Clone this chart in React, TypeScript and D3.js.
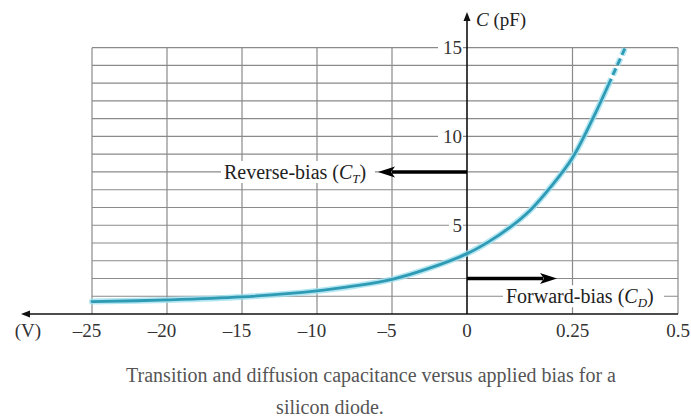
import React from "react";
import * as d3 from "d3";

// Data
const biasV = [-25, -20, -15, -10, -7.5, -5, -2.5, 0, 0.05, 0.1, 0.15, 0.2, 0.25, 0.3, 0.335];
const capPF = [0.7, 0.79, 0.96, 1.3, 1.58, 1.95, 2.58, 3.4, 4.05, 4.85, 5.85, 7.2, 8.8, 11.1, 12.9];
const dashedV = [0.335, 0.355, 0.375];
const dashedC = [12.9, 13.95, 15.0];
const xTickValues = [-25, -20, -15, -10, -5, 0, 0.25, 0.5];
const xTickLabels = ["\u201325", "\u201320", "\u201315", "\u201310", "\u20135", "0", "0.25", "0.5"];
const yTickValues = [5, 10, 15];
const yGridValues = d3.range(1, 16);
const xGridValues = [-25, -20, -15, -10, -5, 0.25, 0.5];

const W = 691;
const H = 420;
const FONT = "'Liberation Serif', 'DejaVu Serif', serif";

export default function App() {
  const x = d3.scaleLinear().domain([-25, 0, 0.5]).range([92, 467, 678]);
  const y = d3.scaleLinear().domain([0, 15]).range([314, 47.7]);

  const solidPts: [number, number][] = biasV.map((v, i) => [x(v), y(capPF[i])]);
  const dashPts: [number, number][] = dashedV.map((v, i) => [x(v), y(dashedC[i])]);
  const line = d3.line<[number, number]>().curve(d3.curveCatmullRom.alpha(0.5));
  const solidPath = line(solidPts) || "";
  const dashPath = line(dashPts) || "";

  const x0 = x(0);
  const gridColor = "#8a8a8a";
  const curveDark = "#2f9ab4";
  const curveGlow = "#9fe0ef";

  const revY = y(8);
  const fwdY = y(2);
  const fwdLabelY = y(1);

  return (
    <svg width={W} height={H} style={{ position: "absolute", left: 0, top: 0, background: "#fff" }}>
      {/* grid */}
      {yGridValues.map((c) => (
        <line key={"h" + c} x1={x(-25)} x2={x(0.5)} y1={y(c)} y2={y(c)} stroke={gridColor} strokeWidth={1.2} />
      ))}
      {xGridValues.map((v) => (
        <line key={"v" + v} x1={x(v)} x2={x(v)} y1={y(0)} y2={y(15)} stroke={gridColor} strokeWidth={1.2} />
      ))}

      {/* x axis */}
      <line x1={27} x2={x(0.5)} y1={y(0)} y2={y(0)} stroke="#111" strokeWidth={1.4} />
      <path d={`M21,${y(0)} L30,${y(0) - 3.5} L30,${y(0) + 3.5} Z`} fill="#111" />
      {/* y axis */}
      <line x1={x0} x2={x0} y1={y(0)} y2={19} stroke="#111" strokeWidth={1.6} />
      <path d={`M${x0},12 L${x0 - 3.5},21 L${x0 + 3.5},21 Z`} fill="#111" />

      {/* y tick labels */}
      {yTickValues.map((c) => (
        <g key={"yl" + c}>
          <rect x={c >= 10 ? 438 : 449} y={y(c) - 8} width={c >= 10 ? 25 : 14} height={16} fill="#fff" />
          <text x={462} y={y(c)} dy="0.35em" textAnchor="end" fontFamily={FONT} fontSize={19} fill="#333">
            {c}
          </text>
        </g>
      ))}

      {/* y axis title */}
      <text x={476} y={19} dy="0.35em" fontFamily={FONT} fontSize={19} fill="#222">
        <tspan fontStyle="italic">C</tspan>
        <tspan> (pF)</tspan>
      </text>

      {/* x tick labels */}
      {xTickValues.map((v, i) => (
        <text
          key={"xl" + v}
          x={x(v) + (v < 0 ? -5 : 0)}
          y={330}
          dy="0.35em"
          textAnchor="middle"
          fontFamily={FONT}
          fontSize={19}
          fill="#333"
        >
          {xTickLabels[i]}
        </text>
      ))}
      <text x={28} y={330} dy="0.35em" textAnchor="middle" fontFamily={FONT} fontSize={19} fill="#333">
        (V)
      </text>

      {/* curve */}
      <path d={solidPath} fill="none" stroke={curveGlow} strokeWidth={6} strokeLinecap="round" opacity={0.8} />
      <path d={solidPath} fill="none" stroke={curveDark} strokeWidth={2.8} strokeLinecap="round" />
      <path d={dashPath} fill="none" stroke={curveGlow} strokeWidth={6} strokeDasharray="7,4" opacity={0.8} />
      <path d={dashPath} fill="none" stroke={curveDark} strokeWidth={2.8} strokeDasharray="7,4" />

      {/* reverse-bias annotation */}
      <rect x={221} y={revY - 11} width={154} height={22} fill="#fff" />
      <text x={224} y={revY} dy="0.35em" fontFamily={FONT} fontSize={20} fill="#222">
        Reverse-bias (<tspan fontStyle="italic">C</tspan>
        <tspan fontStyle="italic" fontSize={13} dy={4}>T</tspan>
        <tspan dy={-4}>)</tspan>
      </text>
      <line x1={x0} x2={392} y1={revY} y2={revY} stroke="#000" strokeWidth={3.5} />
      <path d={`M378,${revY} L395,${revY - 5.5} L391,${revY} L395,${revY + 5.5} Z`} fill="#000" />

      {/* forward-bias annotation */}
      <line x1={x0} x2={543} y1={fwdY} y2={fwdY} stroke="#000" strokeWidth={3.5} />
      <path d={`M557,${fwdY} L540,${fwdY - 5.5} L544,${fwdY} L540,${fwdY + 5.5} Z`} fill="#000" />
      <rect x={503} y={fwdLabelY - 11} width={161} height={22} fill="#fff" />
      <text x={506} y={fwdLabelY} dy="0.35em" fontFamily={FONT} fontSize={20} fill="#222">
        Forward-bias (<tspan fontStyle="italic">C</tspan>
        <tspan fontStyle="italic" fontSize={13} dy={4}>D</tspan>
        <tspan dy={-4}>)</tspan>
      </text>

      {/* caption */}
      <text x={371} y={375} dy="0.35em" textAnchor="middle" fontFamily={FONT} fontSize={20} fill="#555">
        Transition and diffusion capacitance versus applied bias for a
      </text>
      <text x={330} y={407} dy="0.35em" textAnchor="middle" fontFamily={FONT} fontSize={20} fill="#555">
        silicon diode.
      </text>
    </svg>
  );
}
